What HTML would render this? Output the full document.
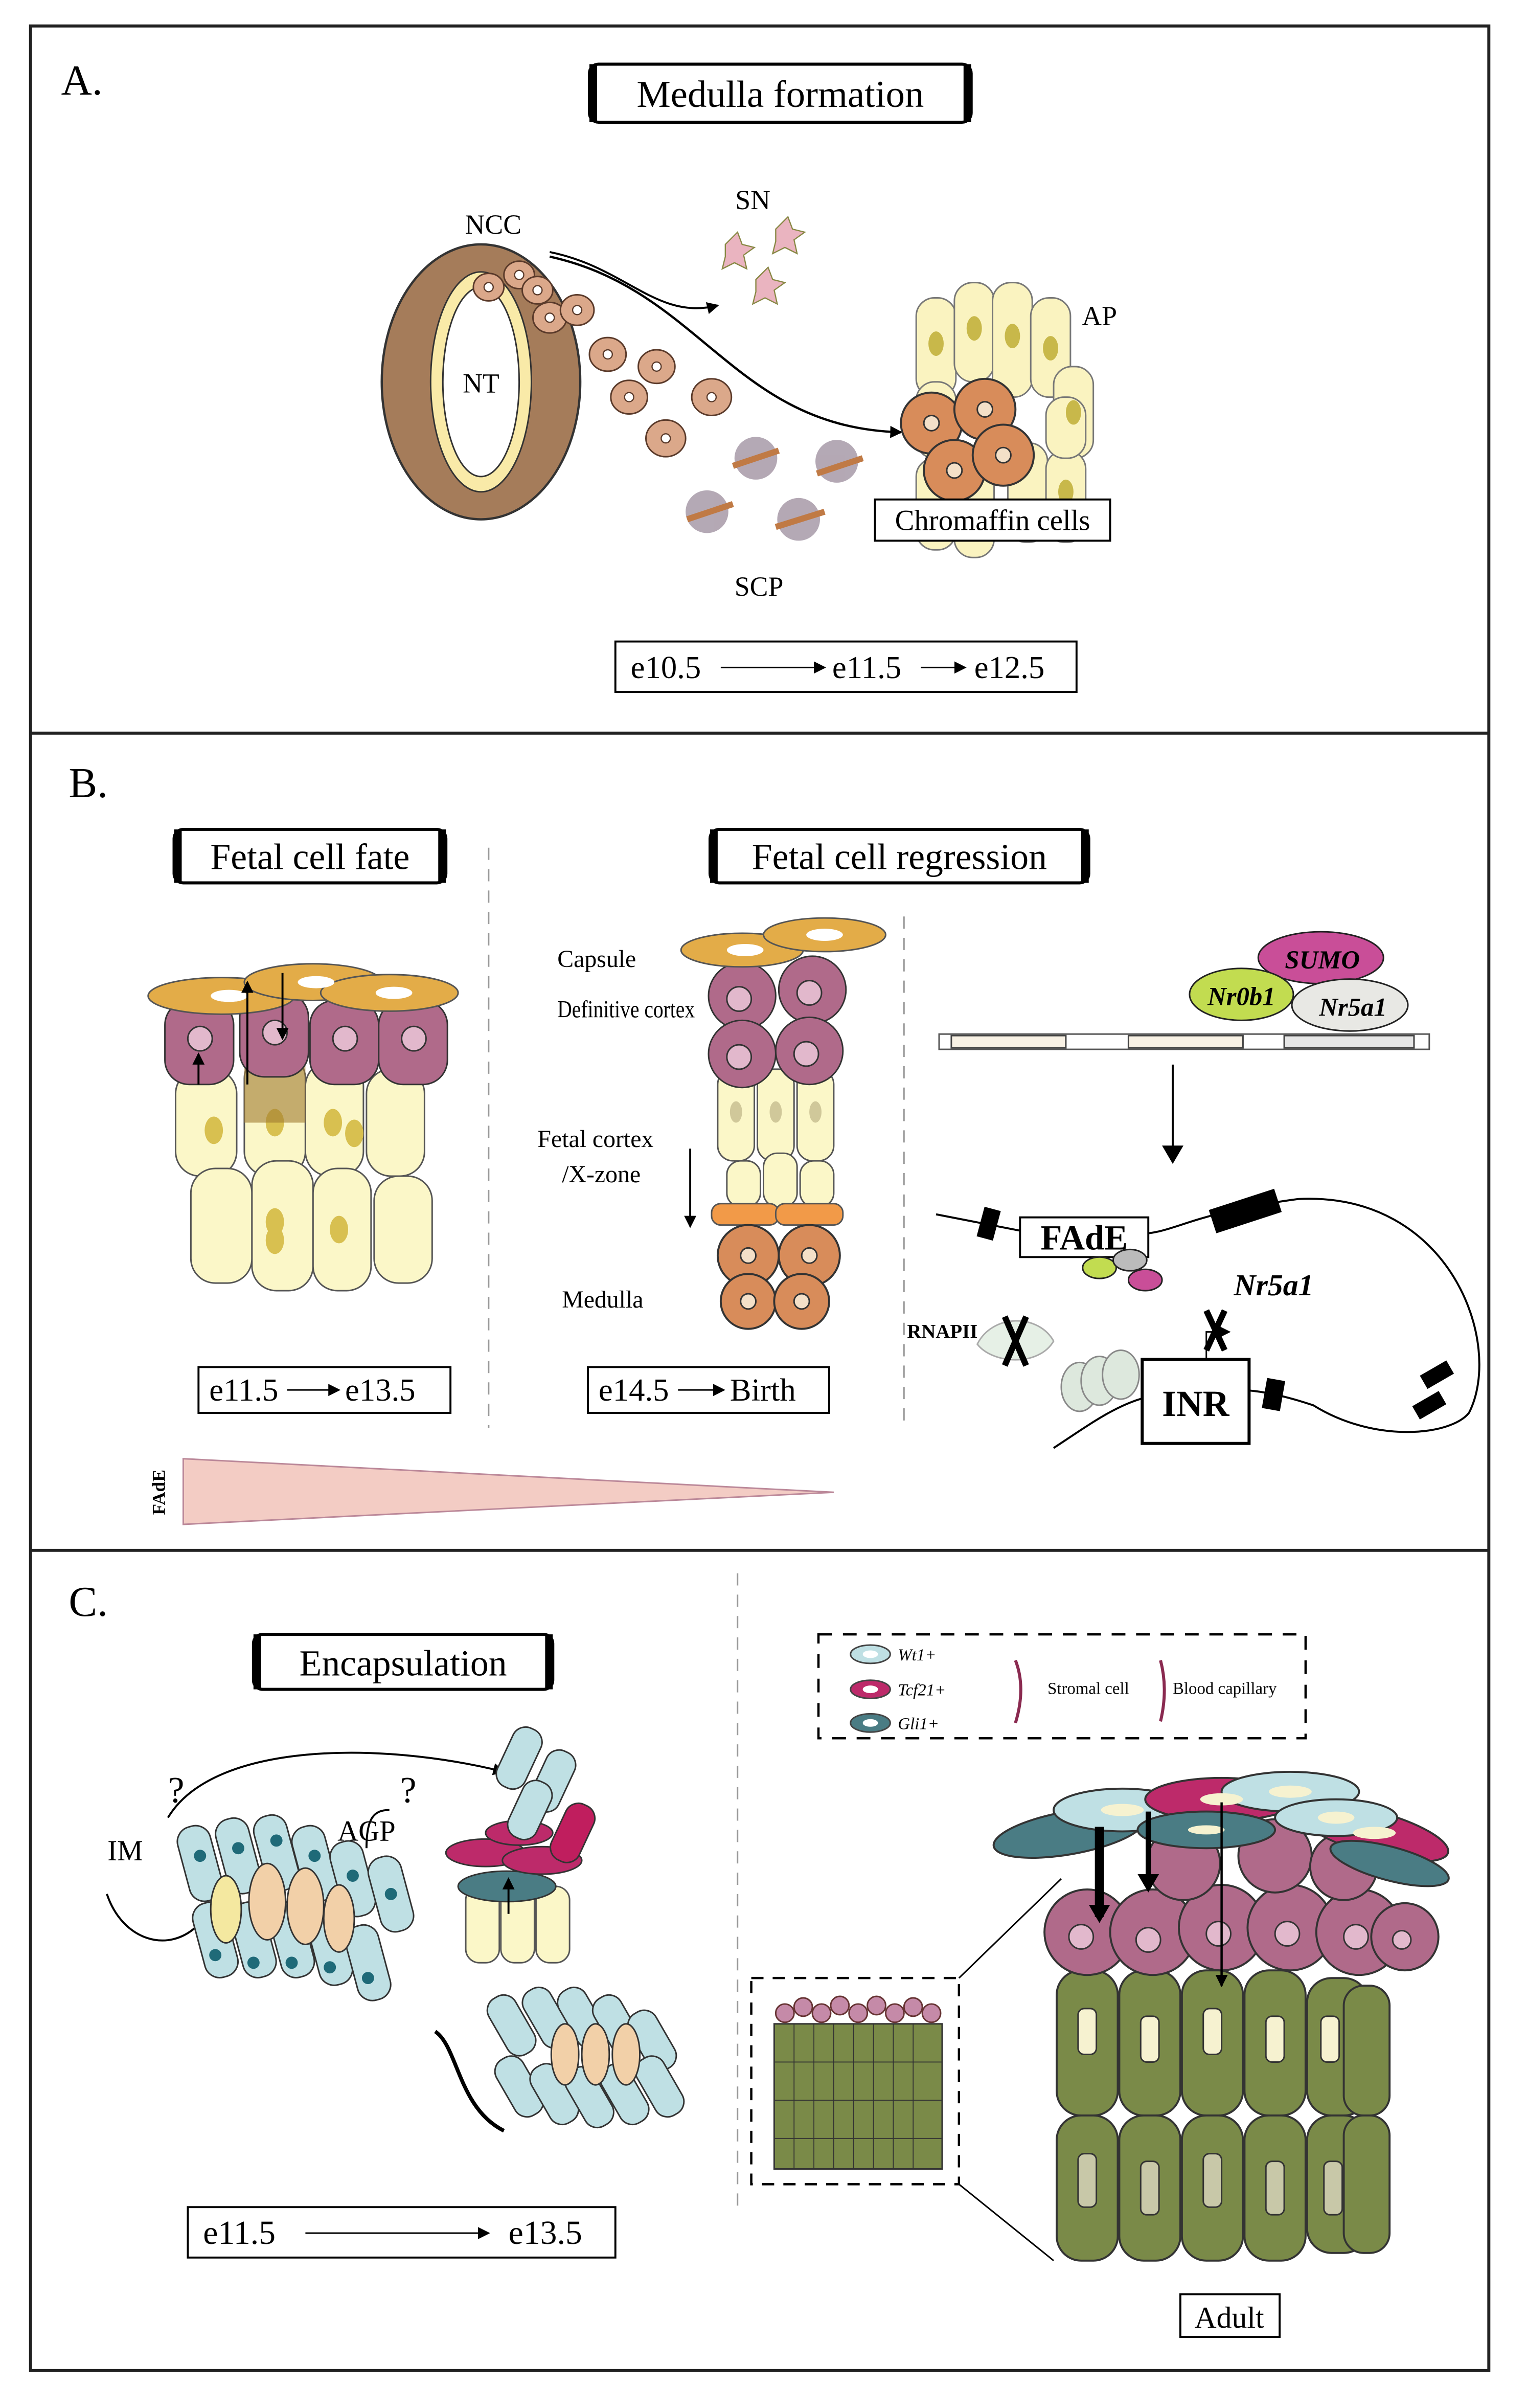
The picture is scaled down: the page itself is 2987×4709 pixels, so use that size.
<!DOCTYPE html>
<html><head><style>html,body{margin:0;padding:0;background:#fff}svg{display:block}text{font-family:"Liberation Serif",serif}</style></head>
<body>
<svg width="2987" height="4709" viewBox="0 0 1000 1576.5" xmlns="http://www.w3.org/2000/svg">
<defs>
<marker id="ar" markerWidth="8" markerHeight="8" refX="7" refY="4" orient="auto" markerUnits="userSpaceOnUse"><path d="M0,0 L8,4 L0,8z" fill="#000"/></marker>
<marker id="arb" markerWidth="14" markerHeight="14" refX="8" refY="7" orient="auto" markerUnits="userSpaceOnUse"><path d="M0,0 L12,7 L0,14z" fill="#000"/></marker>
</defs>
<rect width="1000" height="1576.5" fill="#fff"/>
<rect x="20" y="17" width="955" height="1535" fill="none" stroke="#222" stroke-width="2"/>
<line x1="20" y1="480" x2="975" y2="480" stroke="#222" stroke-width="2"/>
<line x1="20" y1="1015" x2="975" y2="1015" stroke="#222" stroke-width="2"/>

<!-- PANEL A -->
<text x="40" y="62" font-size="28">A.</text>
<rect x="386" y="42" width="250" height="38" rx="6" fill="#fff" stroke="#000" stroke-width="2"/>
<rect x="386" y="42" width="5" height="38" fill="#000"/><rect x="631" y="42" width="5" height="38" fill="#000"/>
<text x="511" y="70" font-size="25" text-anchor="middle">Medulla formation</text>
<text x="323" y="153" font-size="18" text-anchor="middle">NCC</text>
<ellipse cx="315" cy="250" rx="65" ry="90" fill="#a57c5a" stroke="#333" stroke-width="1.5"/>
<ellipse cx="315" cy="250" rx="33" ry="72" fill="#f9eaa8" stroke="#333"/>
<ellipse cx="315" cy="250" rx="25" ry="62" fill="#fff" stroke="#333"/>
<text x="315" y="257" font-size="18" text-anchor="middle">NT</text>
<g fill="#dba88a" stroke="#5a3a2a" stroke-width="1">
<ellipse cx="320" cy="188" rx="10" ry="9"/><ellipse cx="340" cy="180" rx="10" ry="9"/><ellipse cx="352" cy="190" rx="10" ry="9"/><ellipse cx="360" cy="208" rx="11" ry="10"/><ellipse cx="378" cy="203" rx="11" ry="10"/><ellipse cx="398" cy="232" rx="12" ry="11"/><ellipse cx="430" cy="240" rx="12" ry="11"/><ellipse cx="412" cy="260" rx="12" ry="11"/><ellipse cx="466" cy="260" rx="13" ry="12"/><ellipse cx="436" cy="287" rx="13" ry="12"/></g>
<g fill="#fff" stroke="#5a3a2a" stroke-width="0.8"><circle cx="320" cy="188" r="3"/><circle cx="340" cy="180" r="3"/><circle cx="352" cy="190" r="3"/><circle cx="360" cy="208" r="3"/><circle cx="378" cy="203" r="3"/><circle cx="398" cy="232" r="3"/><circle cx="430" cy="240" r="3"/><circle cx="412" cy="260" r="3"/><circle cx="466" cy="260" r="3"/><circle cx="436" cy="287" r="3"/></g>
<path d="M360,165 C410,175 430,210 470,200" fill="none" stroke="#000" stroke-width="1.3" marker-end="url(#ar)"/>
<path d="M360,168 C460,190 480,280 590,283" fill="none" stroke="#000" stroke-width="1.5" marker-end="url(#ar)"/>
<text x="493" y="137" font-size="18" text-anchor="middle">SN</text>
<g fill="#eab4c0" stroke="#884" stroke-width="0.8"><path d="M475,160 l8,-8 l3,8 l8,2 l-7,5 l2,9 l-8,-4 l-8,4 l2,-8z"/><path d="M508,150 l8,-8 l3,8 l8,2 l-7,5 l2,9 l-8,-4 l-8,4 l2,-8z"/><path d="M495,183 l8,-8 l3,8 l8,2 l-7,5 l2,9 l-8,-4 l-8,4 l2,-8z"/></g>
<text x="720" y="213" font-size="18" text-anchor="middle">AP</text>
<g fill="#faf3c0" stroke="#777" stroke-width="1">
<rect x="600" y="195" width="26" height="65" rx="12"/><rect x="625" y="185" width="26" height="65" rx="12"/><rect x="650" y="185" width="26" height="75" rx="12"/><rect x="675" y="195" width="26" height="65" rx="12"/><rect x="690" y="240" width="26" height="60" rx="12"/><rect x="600" y="300" width="26" height="60" rx="12"/><rect x="625" y="300" width="26" height="65" rx="12"/><rect x="660" y="290" width="26" height="65" rx="12"/><rect x="685" y="295" width="26" height="60" rx="12"/><rect x="600" y="250" width="26" height="50" rx="12"/><rect x="685" y="260" width="26" height="40" rx="12"/></g>
<g fill="#c8b84a"><ellipse cx="613" cy="225" rx="5" ry="8"/><ellipse cx="638" cy="215" rx="5" ry="8"/><ellipse cx="663" cy="220" rx="5" ry="8"/><ellipse cx="688" cy="228" rx="5" ry="8"/><ellipse cx="703" cy="270" rx="5" ry="8"/><ellipse cx="698" cy="322" rx="5" ry="8"/></g>
<g fill="#d88c5a" stroke="#333" stroke-width="1.3"><circle cx="610" cy="277" r="20"/><circle cx="645" cy="268" r="20"/><circle cx="625" cy="308" r="20"/><circle cx="657" cy="298" r="20"/></g>
<g fill="#f4e0c8" stroke="#333"><circle cx="610" cy="277" r="5"/><circle cx="645" cy="268" r="5"/><circle cx="625" cy="308" r="5"/><circle cx="657" cy="298" r="5"/></g>
<rect x="573" y="327" width="154" height="27" fill="#fff" stroke="#000" stroke-width="1.3"/>
<text x="650" y="347" font-size="19" text-anchor="middle">Chromaffin cells</text>
<g fill="#a79aa8" opacity="0.85">
<circle cx="495" cy="300" r="14"/><circle cx="548" cy="302" r="14"/><circle cx="463" cy="335" r="14"/><circle cx="523" cy="340" r="14"/></g>
<g stroke="#c07a45" stroke-width="4"><line x1="480" y1="305" x2="510" y2="295"/><line x1="535" y1="310" x2="565" y2="300"/><line x1="450" y1="340" x2="480" y2="330"/><line x1="508" y1="345" x2="540" y2="335"/></g>
<text x="497" y="390" font-size="18" text-anchor="middle">SCP</text>
<rect x="403" y="420" width="302" height="33" fill="#fff" stroke="#000" stroke-width="1.3"/>
<text x="413" y="444" font-size="21">e10.5</text>
<line x1="472" y1="437" x2="540" y2="437" stroke="#000" marker-end="url(#ar)"/>
<text x="545" y="444" font-size="21">e11.5</text>
<line x1="603" y1="437" x2="632" y2="437" stroke="#000" marker-end="url(#ar)"/>
<text x="638" y="444" font-size="21">e12.5</text>

<!-- PANEL B -->
<text x="45" y="522" font-size="28">B.</text>
<rect x="114" y="543" width="178" height="35" rx="6" fill="#fff" stroke="#000" stroke-width="2"/>
<rect x="114" y="543" width="5" height="35" fill="#000"/><rect x="287" y="543" width="5" height="35" fill="#000"/>
<text x="203" y="569" font-size="24" text-anchor="middle">Fetal cell fate</text>
<rect x="465" y="543" width="248" height="35" rx="6" fill="#fff" stroke="#000" stroke-width="2"/>
<rect x="465" y="543" width="5" height="35" fill="#000"/><rect x="708" y="543" width="5" height="35" fill="#000"/>
<text x="589" y="569" font-size="24" text-anchor="middle">Fetal cell regression</text>
<line x1="320" y1="555" x2="320" y2="935" stroke="#999" stroke-dasharray="8,6"/>
<line x1="592" y1="600" x2="592" y2="935" stroke="#999" stroke-dasharray="8,6"/>
<g fill="#fbf7c8" stroke="#555">
<rect x="115" y="700" width="40" height="70" rx="16"/><rect x="160" y="690" width="40" height="80" rx="16"/><rect x="200" y="695" width="38" height="75" rx="16"/><rect x="240" y="700" width="38" height="70" rx="16"/>
<rect x="125" y="765" width="40" height="75" rx="16"/><rect x="165" y="760" width="40" height="85" rx="16"/><rect x="205" y="765" width="38" height="80" rx="16"/><rect x="245" y="770" width="38" height="70" rx="16"/></g>
<g fill="#d8c050"><ellipse cx="140" cy="740" rx="6" ry="9"/><ellipse cx="180" cy="735" rx="6" ry="9"/><ellipse cx="218" cy="735" rx="6" ry="9"/><ellipse cx="232" cy="742" rx="6" ry="9"/><ellipse cx="180" cy="800" rx="6" ry="9"/><ellipse cx="222" cy="805" rx="6" ry="9"/><ellipse cx="180" cy="812" rx="6" ry="9"/></g>
<rect x="160" y="690" width="40" height="45" fill="#a07a30" opacity="0.6"/>
<g fill="#b06a8a" stroke="#333"><rect x="108" y="655" width="45" height="55" rx="16"/><rect x="157" y="650" width="45" height="55" rx="16"/><rect x="203" y="655" width="45" height="55" rx="16"/><rect x="248" y="655" width="45" height="55" rx="16"/></g>
<g fill="#e2b8cc" stroke="#333"><circle cx="131" cy="680" r="8"/><circle cx="180" cy="676" r="8"/><circle cx="226" cy="680" r="8"/><circle cx="271" cy="680" r="8"/></g>
<g fill="#e3ac48" stroke="#555"><ellipse cx="145" cy="652" rx="48" ry="12"/><ellipse cx="205" cy="643" rx="45" ry="12"/><ellipse cx="255" cy="650" rx="45" ry="12"/></g>
<g fill="#fff"><ellipse cx="150" cy="652" rx="12" ry="4"/><ellipse cx="207" cy="643" rx="12" ry="4"/><ellipse cx="258" cy="650" rx="12" ry="4"/></g>
<line x1="130" y1="710" x2="130" y2="690" stroke="#000" stroke-width="1.3" marker-end="url(#ar)"/>
<line x1="162" y1="710" x2="162" y2="643" stroke="#000" stroke-width="1.3" marker-end="url(#ar)"/>
<line x1="185" y1="637" x2="185" y2="680" stroke="#000" stroke-width="1.3" marker-end="url(#ar)"/>
<rect x="130" y="895" width="165" height="30" fill="#fff" stroke="#000" stroke-width="1.3"/>
<text x="137" y="917" font-size="21">e11.5</text><line x1="188" y1="910" x2="222" y2="910" stroke="#000" marker-end="url(#ar)"/><text x="226" y="917" font-size="21">e13.5</text>
<text x="365" y="633" font-size="16">Capsule</text>
<text x="365" y="666" font-size="16" textLength="90" lengthAdjust="spacingAndGlyphs">Definitive cortex</text>
<text x="352" y="751" font-size="16">Fetal cortex</text>
<text x="368" y="774" font-size="16">/X-zone</text>
<text x="368" y="856" font-size="16">Medulla</text>
<line x1="452" y1="752" x2="452" y2="803" stroke="#000" stroke-width="1.3" marker-end="url(#ar)"/>
<g fill="#fbf7c8" stroke="#555"><rect x="470" y="700" width="24" height="60" rx="10"/><rect x="496" y="700" width="24" height="60" rx="10"/><rect x="522" y="700" width="24" height="60" rx="10"/><rect x="476" y="760" width="22" height="30" rx="9"/><rect x="500" y="755" width="22" height="35" rx="9"/><rect x="524" y="760" width="22" height="30" rx="9"/></g>
<g fill="#d0c89a"><ellipse cx="482" cy="728" rx="4" ry="7"/><ellipse cx="508" cy="728" rx="4" ry="7"/><ellipse cx="534" cy="728" rx="4" ry="7"/></g>
<g fill="#f29a48" stroke="#555"><rect x="466" y="788" width="44" height="14" rx="6"/><rect x="508" y="788" width="44" height="14" rx="6"/></g>
<g fill="#d88c5a" stroke="#333" stroke-width="1.3"><circle cx="490" cy="822" r="20"/><circle cx="530" cy="822" r="20"/><circle cx="490" cy="852" r="18"/><circle cx="525" cy="852" r="18"/></g>
<g fill="#f4e0c8" stroke="#333"><circle cx="490" cy="822" r="5"/><circle cx="530" cy="822" r="5"/><circle cx="490" cy="852" r="5"/><circle cx="525" cy="852" r="5"/></g>
<g fill="#b06a8a" stroke="#333"><circle cx="486" cy="652" r="22"/><circle cx="532" cy="648" r="22"/><circle cx="486" cy="690" r="22"/><circle cx="530" cy="688" r="22"/></g>
<g fill="#e2b8cc" stroke="#333"><circle cx="484" cy="654" r="8"/><circle cx="530" cy="650" r="8"/><circle cx="484" cy="692" r="8"/><circle cx="528" cy="690" r="8"/></g>
<g fill="#e3ac48" stroke="#555"><ellipse cx="486" cy="622" rx="40" ry="11"/><ellipse cx="540" cy="612" rx="40" ry="11"/></g>
<g fill="#fff"><ellipse cx="488" cy="622" rx="12" ry="4"/><ellipse cx="540" cy="612" rx="12" ry="4"/></g>
<rect x="385" y="895" width="158" height="30" fill="#fff" stroke="#000" stroke-width="1.3"/>
<text x="392" y="917" font-size="21">e14.5</text><line x1="444" y1="910" x2="474" y2="910" stroke="#000" marker-end="url(#ar)"/><text x="478" y="917" font-size="21">Birth</text>
<path d="M120,955 L546,977 L120,998z" fill="#f3ccc4" stroke="#b89"/>
<text transform="translate(108,977) rotate(-90)" font-size="12" font-weight="bold" text-anchor="middle">FAdE</text>
<rect x="615" y="677" width="321" height="10" fill="#fff" stroke="#555"/>
<rect x="623" y="678" width="75" height="8" fill="#f8f1e4" stroke="#444"/><rect x="739" y="678" width="75" height="8" fill="#f8f1e4" stroke="#444"/><rect x="841" y="678" width="85" height="8" fill="#e6e6e6" stroke="#444"/>
<ellipse cx="865" cy="627" rx="41" ry="17" fill="#c94e98" stroke="#222"/>
<text x="866" y="634" font-size="17" font-weight="bold" font-style="italic" text-anchor="middle">SUMO</text>
<ellipse cx="884" cy="658" rx="38" ry="17" fill="#e8e8e4" stroke="#222"/>
<text x="886" y="665" font-size="17" font-weight="bold" font-style="italic" text-anchor="middle">Nr5a1</text>
<ellipse cx="813" cy="651" rx="34" ry="17" fill="#c2dc50" stroke="#222"/>
<text x="813" y="658" font-size="17" font-weight="bold" font-style="italic" text-anchor="middle">Nr0b1</text>
<line x1="768" y1="697" x2="768" y2="758" stroke="#000" stroke-width="1.3" marker-end="url(#arb)"/>
<path d="M613,795 L690,810 M743,808 C770,808 775,795 850,785 C950,780 985,880 962,925 C950,940 900,945 860,920 C830,910 815,910 810,910" fill="none" stroke="#000" stroke-width="1.3"/>
<path d="M752,908 L810,912" stroke="#000" stroke-width="1.3"/>
<path d="M690,948 C710,935 730,920 750,915" fill="none" stroke="#000" stroke-width="1.3"/>
<rect x="642" y="791" width="11" height="20" fill="#000" transform="rotate(15 647 801)"/>
<rect x="793" y="785" width="45" height="16" fill="#000" transform="rotate(-18 815 793)"/>
<rect x="828" y="903" width="12" height="20" fill="#000" transform="rotate(10 834 913)"/>
<rect x="931" y="895" width="20" height="10" fill="#000" transform="rotate(-30 941 900)"/>
<rect x="926" y="915" width="20" height="10" fill="#000" transform="rotate(-30 936 920)"/>
<rect x="668" y="797" width="84" height="26" fill="#fff" stroke="#000" stroke-width="1.3"/>
<text x="710" y="818" font-size="23" font-weight="bold" text-anchor="middle">FAdE</text>
<ellipse cx="720" cy="830" rx="11" ry="7" fill="#c2dc50" stroke="#222"/><ellipse cx="740" cy="825" rx="11" ry="7" fill="#bbb" stroke="#222"/><ellipse cx="750" cy="838" rx="11" ry="7" fill="#c94e98" stroke="#222"/>
<text x="808" y="848" font-size="20" font-weight="bold" font-style="italic">Nr5a1</text>
<text x="594" y="876" font-size="13" font-weight="bold">RNAPII</text>
<path d="M640,880 C650,860 680,860 690,878 C680,895 650,893 640,880z" fill="#e6f0e6" stroke="#aaa"/>
<path d="M658,862 L672,894 M672,862 L658,894" stroke="#000" stroke-width="4"/>
<g fill="#dde8dd" stroke="#888"><ellipse cx="707" cy="908" rx="12" ry="16"/><ellipse cx="720" cy="904" rx="12" ry="16"/><ellipse cx="734" cy="900" rx="12" ry="16"/></g>
<path d="M790,890 L790,872 L805,872" fill="none" stroke="#000" marker-end="url(#ar)"/>
<path d="M790,858 L802,884 M802,858 L790,884" stroke="#000" stroke-width="4"/>
<rect x="748" y="890" width="70" height="55" fill="#fff" stroke="#000" stroke-width="2"/>
<text x="783" y="927" font-size="24" font-weight="bold" text-anchor="middle">INR</text>

<!-- PANEL C -->
<text x="45" y="1058" font-size="28">C.</text>
<rect x="166" y="1070" width="196" height="36" rx="6" fill="#fff" stroke="#000" stroke-width="2"/>
<rect x="166" y="1070" width="5" height="36" fill="#000"/><rect x="357" y="1070" width="5" height="36" fill="#000"/>
<text x="264" y="1097" font-size="24" text-anchor="middle">Encapsulation</text>
<line x1="483" y1="1030" x2="483" y2="1450" stroke="#999" stroke-dasharray="8,6"/>
<text x="82" y="1218" font-size="19" text-anchor="middle">IM</text>
<text x="240" y="1205" font-size="19" text-anchor="middle">AGP</text>
<text x="110" y="1180" font-size="24">?</text><text x="262" y="1180" font-size="24">?</text>
<path d="M110,1190 C140,1140 250,1140 330,1160" fill="none" stroke="#000" stroke-width="1.3" marker-end="url(#ar)"/>
<path d="M70,1240 C80,1270 110,1280 130,1260" fill="none" stroke="#000" stroke-width="1.3"/>
<path d="M240,1210 C240,1190 245,1185 255,1185" fill="none" stroke="#000" stroke-width="1.3"/>
<g fill="#bfe0e4" stroke="#333" stroke-width="1">
<rect x="120" y="1195" width="22" height="50" rx="10" transform="rotate(-15 131 1220)"/><rect x="145" y="1190" width="22" height="50" rx="10" transform="rotate(-15 156 1215)"/><rect x="170" y="1188" width="22" height="50" rx="10" transform="rotate(-15 181 1213)"/><rect x="195" y="1195" width="22" height="50" rx="10" transform="rotate(-15 206 1220)"/><rect x="220" y="1205" width="22" height="50" rx="10" transform="rotate(-15 231 1230)"/><rect x="245" y="1215" width="22" height="50" rx="10" transform="rotate(-15 256 1240)"/>
<rect x="130" y="1245" width="22" height="50" rx="10" transform="rotate(-15 141 1270)"/><rect x="155" y="1245" width="22" height="50" rx="10" transform="rotate(-15 166 1270)"/><rect x="180" y="1245" width="22" height="50" rx="10" transform="rotate(-15 191 1270)"/><rect x="205" y="1250" width="22" height="50" rx="10" transform="rotate(-15 216 1275)"/><rect x="230" y="1260" width="22" height="50" rx="10" transform="rotate(-15 241 1285)"/></g>
<g fill="#f2d0a8" stroke="#333"><ellipse cx="175" cy="1245" rx="12" ry="25"/><ellipse cx="200" cy="1248" rx="12" ry="25"/><ellipse cx="148" cy="1250" rx="10" ry="22" fill="#f4e8a0"/><ellipse cx="222" cy="1256" rx="10" ry="22"/></g>
<g fill="#1f6a78"><circle cx="131" cy="1215" r="4"/><circle cx="156" cy="1210" r="4"/><circle cx="206" cy="1215" r="4"/><circle cx="231" cy="1228" r="4"/><circle cx="256" cy="1240" r="4"/><circle cx="141" cy="1280" r="4"/><circle cx="166" cy="1285" r="4"/><circle cx="191" cy="1285" r="4"/><circle cx="216" cy="1288" r="4"/><circle cx="241" cy="1295" r="4"/><circle cx="181" cy="1205" r="4"/></g>
<g fill="#fbf7c8" stroke="#555"><rect x="305" y="1235" width="22" height="50" rx="9"/><rect x="328" y="1235" width="22" height="50" rx="9"/><rect x="351" y="1235" width="22" height="50" rx="9"/></g>
<ellipse cx="332" cy="1235" rx="32" ry="10" fill="#4a7c84" stroke="#333"/>
<g fill="#bd2a6a" stroke="#333"><ellipse cx="318" cy="1213" rx="26" ry="9"/><ellipse cx="355" cy="1218" rx="26" ry="9"/><ellipse cx="340" cy="1200" rx="22" ry="8"/></g>
<rect x="365" y="1180" width="20" height="40" rx="9" fill="#c01e5e" stroke="#333" transform="rotate(25 375 1200)"/>
<g fill="#bfe0e4" stroke="#333"><rect x="330" y="1130" width="20" height="42" rx="9" transform="rotate(25 340 1151)"/><rect x="352" y="1145" width="20" height="42" rx="9" transform="rotate(25 362 1166)"/><rect x="337" y="1165" width="20" height="40" rx="9" transform="rotate(25 347 1185)"/></g>
<line x1="333" y1="1253" x2="333" y2="1230" stroke="#000" stroke-width="1.3" marker-end="url(#ar)"/>
<path d="M285,1330 C300,1340 300,1380 330,1395" fill="none" stroke="#000" stroke-width="2.5"/>
<g fill="#bfe0e4" stroke="#333">
<rect x="325" y="1305" width="20" height="42" rx="9" transform="rotate(-30 335 1326)"/><rect x="348" y="1300" width="20" height="42" rx="9" transform="rotate(-30 358 1321)"/><rect x="371" y="1300" width="20" height="42" rx="9" transform="rotate(-30 381 1321)"/><rect x="394" y="1305" width="20" height="42" rx="9" transform="rotate(-30 404 1326)"/><rect x="417" y="1315" width="20" height="42" rx="9" transform="rotate(-30 427 1336)"/>
<rect x="330" y="1345" width="20" height="42" rx="9" transform="rotate(-30 340 1366)"/><rect x="353" y="1350" width="20" height="42" rx="9" transform="rotate(-30 363 1371)"/><rect x="376" y="1352" width="20" height="42" rx="9" transform="rotate(-30 386 1373)"/><rect x="399" y="1350" width="20" height="42" rx="9" transform="rotate(-30 409 1371)"/><rect x="422" y="1345" width="20" height="42" rx="9" transform="rotate(-30 432 1366)"/></g>
<g fill="#f2d0a8" stroke="#333"><ellipse cx="370" cy="1345" rx="9" ry="20"/><ellipse cx="390" cy="1345" rx="9" ry="20"/><ellipse cx="410" cy="1345" rx="9" ry="20"/></g>
<rect x="123" y="1445" width="280" height="33" fill="#fff" stroke="#000" stroke-width="1.3"/>
<text x="133" y="1469" font-size="22">e11.5</text><line x1="200" y1="1462" x2="320" y2="1462" stroke="#000" marker-end="url(#ar)"/><text x="333" y="1469" font-size="22">e13.5</text>
<rect x="536" y="1070" width="319" height="68" fill="none" stroke="#000" stroke-width="1.5" stroke-dasharray="9,7"/>
<ellipse cx="570" cy="1083" rx="13" ry="6" fill="#bfe0e4" stroke="#444"/><ellipse cx="570" cy="1083" rx="5" ry="2.5" fill="#fff"/>
<ellipse cx="570" cy="1106" rx="13" ry="6" fill="#bd2a6a" stroke="#444"/><ellipse cx="570" cy="1106" rx="5" ry="2.5" fill="#fff"/>
<ellipse cx="570" cy="1128" rx="13" ry="6" fill="#4a7c84" stroke="#444"/><ellipse cx="570" cy="1128" rx="5" ry="2.5" fill="#fff"/>
<text x="588" y="1087" font-size="11" font-style="italic">Wt1+</text><text x="588" y="1110" font-size="11" font-style="italic">Tcf21+</text><text x="588" y="1132" font-size="11" font-style="italic">Gli1+</text>
<path d="M665,1087 Q672,1105 665,1128" fill="none" stroke="#8a2a50" stroke-width="2"/>
<text x="686" y="1109" font-size="11">Stromal cell</text>
<path d="M760,1087 Q765,1106 760,1127" fill="none" stroke="#8a2a50" stroke-width="2"/>
<text x="768" y="1109" font-size="11">Blood capillary</text>
<rect x="492" y="1295" width="136" height="135" fill="none" stroke="#000" stroke-width="1.5" stroke-dasharray="8,6"/>
<rect x="507" y="1325" width="110" height="95" fill="#7a8a48" stroke="#333"/>
<g stroke="#333" stroke-width="0.6">
<line x1="520" y1="1325" x2="520" y2="1420"/><line x1="533" y1="1325" x2="533" y2="1420"/><line x1="546" y1="1325" x2="546" y2="1420"/><line x1="559" y1="1325" x2="559" y2="1420"/><line x1="572" y1="1325" x2="572" y2="1420"/><line x1="585" y1="1325" x2="585" y2="1420"/><line x1="598" y1="1325" x2="598" y2="1420"/><line x1="507" y1="1350" x2="617" y2="1350"/><line x1="507" y1="1375" x2="617" y2="1375"/><line x1="507" y1="1400" x2="617" y2="1400"/></g>
<g fill="#c58aa8" stroke="#633"><circle cx="514" cy="1318" r="6"/><circle cx="526" cy="1314" r="6"/><circle cx="538" cy="1318" r="6"/><circle cx="550" cy="1313" r="6"/><circle cx="562" cy="1318" r="6"/><circle cx="574" cy="1313" r="6"/><circle cx="586" cy="1318" r="6"/><circle cx="598" cy="1314" r="6"/><circle cx="610" cy="1318" r="6"/></g>
<line x1="628" y1="1295" x2="695" y2="1230" stroke="#000"/>
<line x1="628" y1="1430" x2="690" y2="1480" stroke="#000"/>
<g fill="#7a8a48" stroke="#333" stroke-width="1.3">
<rect x="692" y="1290" width="40" height="95" rx="16"/><rect x="733" y="1290" width="40" height="95" rx="16"/><rect x="774" y="1290" width="40" height="95" rx="16"/><rect x="815" y="1290" width="40" height="95" rx="16"/><rect x="856" y="1295" width="40" height="90" rx="16"/><rect x="880" y="1300" width="30" height="85" rx="13"/>
<rect x="692" y="1385" width="40" height="95" rx="16"/><rect x="733" y="1385" width="40" height="95" rx="16"/><rect x="774" y="1385" width="40" height="95" rx="16"/><rect x="815" y="1385" width="40" height="95" rx="16"/><rect x="856" y="1385" width="40" height="90" rx="16"/><rect x="880" y="1385" width="30" height="90" rx="13"/></g>
<g fill="#f6f2d0" stroke="#333"><rect x="706" y="1315" width="12" height="30" rx="4"/><rect x="747" y="1320" width="12" height="30" rx="4"/><rect x="788" y="1315" width="12" height="30" rx="4"/><rect x="829" y="1320" width="12" height="30" rx="4"/><rect x="865" y="1320" width="12" height="30" rx="4"/></g>
<g fill="#c8c8a8" stroke="#333"><rect x="706" y="1410" width="12" height="35" rx="4"/><rect x="747" y="1415" width="12" height="35" rx="4"/><rect x="788" y="1410" width="12" height="35" rx="4"/><rect x="829" y="1415" width="12" height="35" rx="4"/><rect x="867" y="1415" width="12" height="35" rx="4"/></g>
<g fill="#b06a8a" stroke="#333" stroke-width="1.3">
<circle cx="712" cy="1265" r="28"/><circle cx="755" cy="1265" r="28"/><circle cx="800" cy="1262" r="28"/><circle cx="845" cy="1262" r="28"/><circle cx="890" cy="1265" r="28"/><circle cx="920" cy="1268" r="22"/><circle cx="775" cy="1220" r="24"/><circle cx="835" cy="1215" r="24"/><circle cx="880" cy="1222" r="22"/></g>
<g fill="#e2b8cc" stroke="#333"><circle cx="708" cy="1268" r="8"/><circle cx="752" cy="1270" r="8"/><circle cx="798" cy="1266" r="8"/><circle cx="843" cy="1266" r="8"/><circle cx="888" cy="1268" r="8"/><circle cx="918" cy="1270" r="6"/></g>
<g stroke="#333" stroke-width="1.3">
<ellipse cx="700" cy="1200" rx="50" ry="14" fill="#4a7c84" transform="rotate(-10 700 1200)"/>
<ellipse cx="735" cy="1185" rx="45" ry="14" fill="#bfe0e4"/>
<ellipse cx="800" cy="1178" rx="50" ry="14" fill="#bd2a6a"/>
<ellipse cx="845" cy="1173" rx="45" ry="13" fill="#bfe0e4"/>
<ellipse cx="790" cy="1198" rx="45" ry="12" fill="#4a7c84"/>
<ellipse cx="900" cy="1200" rx="50" ry="14" fill="#bd2a6a" transform="rotate(15 900 1200)"/>
<ellipse cx="910" cy="1220" rx="40" ry="11" fill="#4a7c84" transform="rotate(15 910 1220)"/>
<ellipse cx="875" cy="1190" rx="40" ry="12" fill="#bfe0e4"/></g>
<g fill="#f6f2d0"><ellipse cx="735" cy="1185" rx="14" ry="4"/><ellipse cx="800" cy="1178" rx="14" ry="4"/><ellipse cx="845" cy="1173" rx="14" ry="4"/><ellipse cx="900" cy="1200" rx="14" ry="4"/><ellipse cx="875" cy="1190" rx="12" ry="4"/><ellipse cx="790" cy="1198" rx="12" ry="3"/></g>
<line x1="720" y1="1196" x2="720" y2="1255" stroke="#000" stroke-width="6" marker-end="url(#arb)"/>
<line x1="752" y1="1186" x2="752" y2="1235" stroke="#000" stroke-width="3.5" marker-end="url(#arb)"/>
<line x1="800" y1="1180" x2="800" y2="1300" stroke="#000" stroke-width="1.5" marker-end="url(#ar)"/>
<rect x="773" y="1502" width="65" height="28" fill="#fff" stroke="#000" stroke-width="1.3"/>
<text x="805" y="1524" font-size="20" text-anchor="middle">Adult</text>
</svg>
</body></html>
